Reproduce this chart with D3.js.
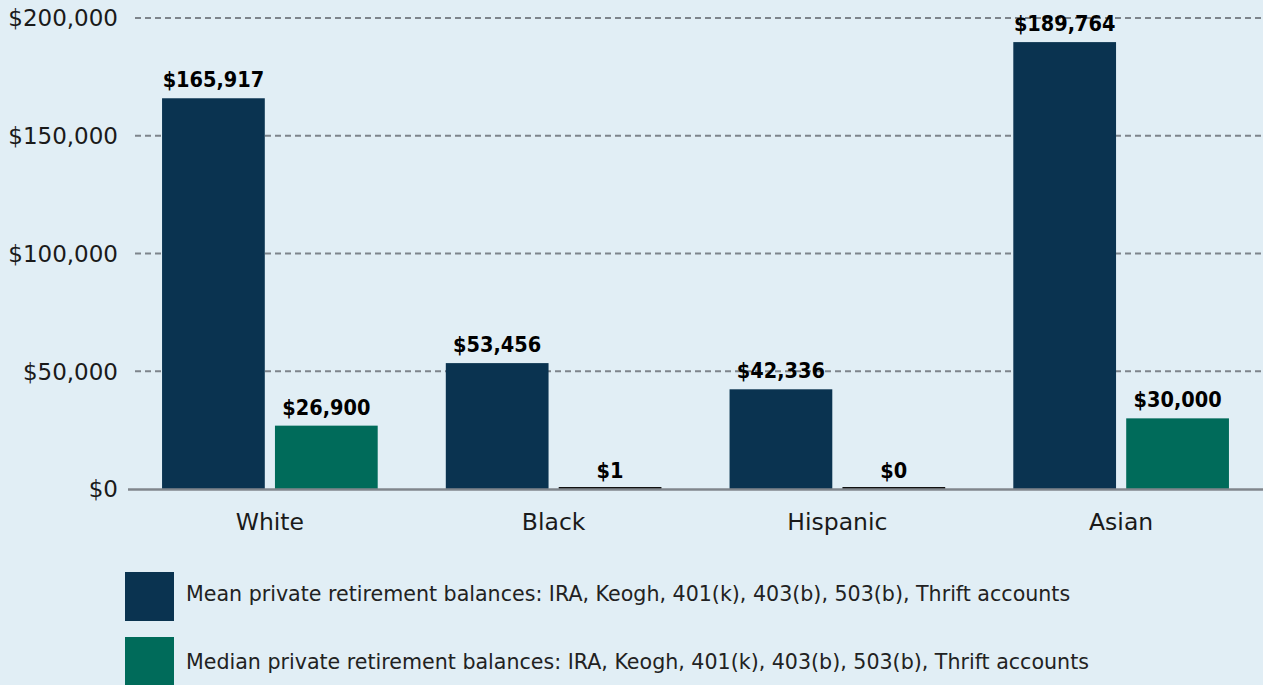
<!DOCTYPE html>
<html>
<head>
<meta charset="utf-8">
<script src="https://cdn.jsdelivr.net/npm/d3@7"></script>
<style>
  html, body { margin: 0; padding: 0; background: #e1eef5; }
  svg { display: block; font-family: "DejaVu Sans", sans-serif; }
  .value { font-family: "DejaVu Sans Condensed", "DejaVu Sans", sans-serif; font-stretch: condensed; }
</style>
</head>
<body>
<svg id="chart" width="1263" height="685"></svg>
<script>
// Private retirement balances by race/ethnicity
const groups = ["White", "Black", "Hispanic", "Asian"];
const seriesKeys = ["mean", "median"];
const meanValues = [165917, 53456, 42336, 189764];
const medianValues = [26900, 1, 0, 30000];
const seriesLabels = [
  "Mean private retirement balances: IRA, Keogh, 401(k), 403(b), 503(b), Thrift accounts",
  "Median private retirement balances: IRA, Keogh, 401(k), 403(b), 503(b), Thrift accounts"
];
const yTicks = [0, 50000, 100000, 150000, 200000];
const colors = { mean: "#0a3350", median: "#006b5a" };

const svg = d3.select("#chart");
const W = 1263;

const y = d3.scaleLinear().domain([0, 200000]).range([489, 18]);
const x0 = d3.scaleBand().domain(groups).range([128, W]).paddingInner(0.24).paddingOuter(0.12);
const x1 = d3.scaleBand().domain(seriesKeys).range([0, x0.bandwidth()]).paddingInner(0.09);

const rows = groups.map((g, i) => ({ group: g, mean: meanValues[i], median: medianValues[i] }));

// gridlines
svg.append("g")
  .selectAll("line")
  .data(yTicks.filter(d => d > 0))
  .join("line")
  .attr("x1", 135).attr("x2", W)
  .attr("y1", d => y(d)).attr("y2", d => y(d))
  .attr("stroke", "#7d848b")
  .attr("stroke-width", 1.8)
  .attr("stroke-dasharray", "6,4");

// y tick labels
const fmt = d3.format("$,");
svg.append("g")
  .selectAll("text")
  .data(yTicks)
  .join("text")
  .attr("x", 118)
  .attr("y", d => y(d))
  .attr("dy", "0.36em")
  .attr("text-anchor", "end")
  .attr("font-size", 23)
  .attr("fill", "#1a1a1a")
  .text(d => fmt(d));

// bars
const gGroups = svg.append("g")
  .selectAll("g")
  .data(rows)
  .join("g")
  .attr("transform", d => `translate(${x0(d.group)},0)`);

const cells = gGroups.selectAll("g")
  .data(d => seriesKeys.map(k => ({ key: k, value: d[k] })))
  .join("g");

cells.append("rect")
  .attr("x", d => x1(d.key))
  .attr("width", x1.bandwidth())
  .attr("y", d => y(d.value))
  .attr("height", d => y(0) - y(d.value))
  .attr("fill", d => colors[d.key]);

// near-zero bars shown as a thin dark rule on the baseline
cells.filter(d => y(0) - y(d.value) < 1)
  .append("rect")
  .attr("x", d => x1(d.key))
  .attr("width", x1.bandwidth())
  .attr("y", y(0) - 2)
  .attr("height", 2)
  .attr("fill", "#111");

// baseline
svg.append("line")
  .attr("x1", 128).attr("x2", W)
  .attr("y1", y(0) + 0.5).attr("y2", y(0) + 0.5)
  .attr("stroke", "#80868c")
  .attr("stroke-width", 2.5);

// value labels
cells.append("text")
  .attr("class", "value")
  .attr("x", d => x1(d.key) + x1.bandwidth() / 2)
  .attr("y", d => y(d.value) - 11)
  .attr("text-anchor", "middle")
  .attr("font-size", 21.5)
  .attr("font-weight", 700)
  .attr("fill", "#000")
  .text(d => "$" + d3.format(",")(d.value));

// category labels
svg.append("g")
  .selectAll("text")
  .data(groups)
  .join("text")
  .attr("x", d => x0(d) + x0.bandwidth() / 2)
  .attr("y", 530)
  .attr("text-anchor", "middle")
  .attr("font-size", 23.5)
  .attr("fill", "#1a1a1a")
  .text(d => d);

// legend
const legend = svg.append("g")
  .selectAll("g")
  .data(seriesKeys)
  .join("g")
  .attr("transform", (d, i) => `translate(125,${572 + i * 65})`);

legend.append("rect")
  .attr("width", 49).attr("height", 49)
  .attr("fill", d => colors[d]);

legend.append("text")
  .attr("x", 61)
  .attr("y", (d, i) => 22 + i * 3)
  .attr("dy", "0.36em")
  .attr("font-size", 20.6)
  .attr("fill", "#222")
  .text((d, i) => seriesLabels[i]);
</script>
</body>
</html>
